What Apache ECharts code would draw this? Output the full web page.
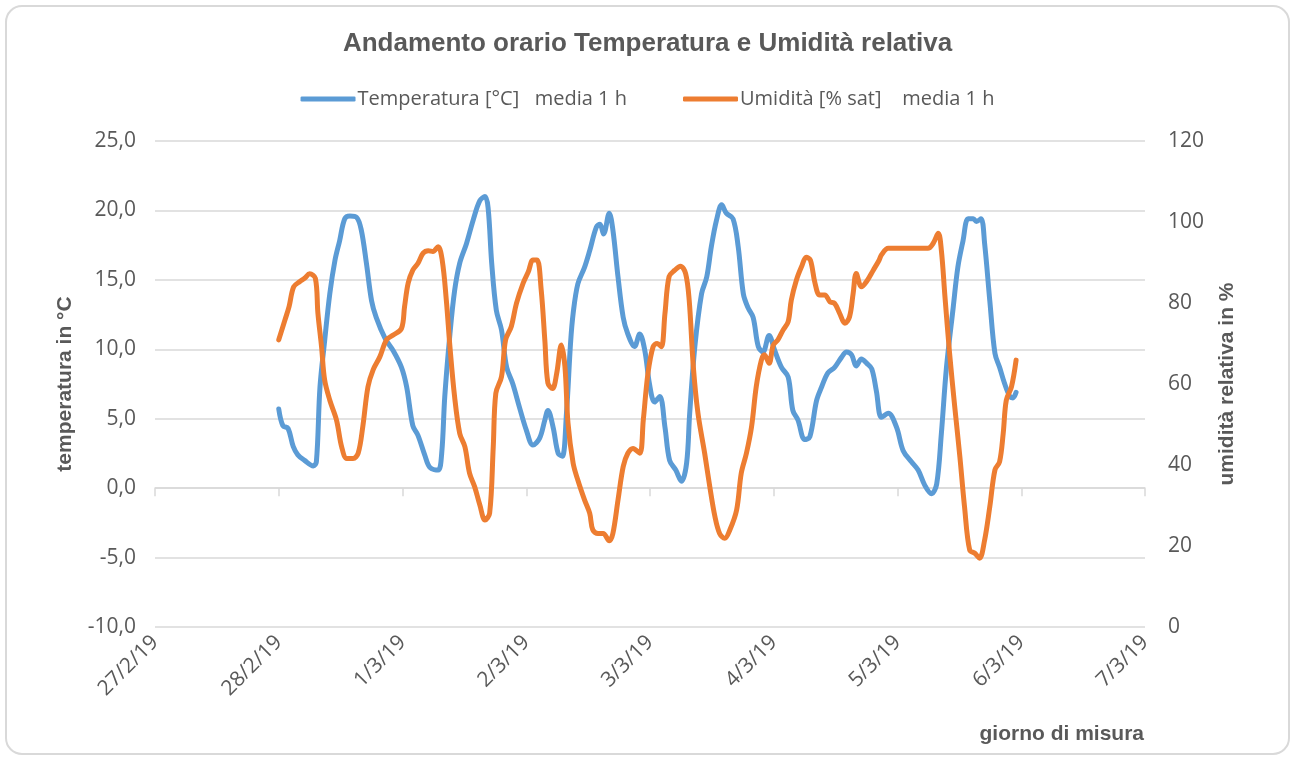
<!DOCTYPE html>
<html>
<head>
<meta charset="utf-8">
<script src="https://cdn.jsdelivr.net/npm/echarts@6/dist/echarts.min.js"></script>
<style>
	html, body {margin: 0; padding: 0; background: #fff;}
	#chart {width: 1295px; height: 760px;}
</style>
</head>
<body>
<div id="chart"></div>
<script>
// hours since 28/2/19 00:00
const dayLabels = ['27/2/19', '28/2/19', '1/3/19', '2/3/19', '3/3/19', '4/3/19', '5/3/19', '6/3/19', '7/3/19'];

const tempHours = [0, 0.8, 1.8, 2.8, 3.7, 5.0, 6.7, 7.3, 8.0, 8.9, 9.9, 10.9, 11.8, 12.8, 13.8, 15.1, 16.0, 17.0, 18.0, 18.9,
	20.6, 22.2, 23.8, 24.8, 26.0, 27.0, 28.3, 29.3, 30.9, 31.6, 32.2, 33.2, 34.1, 35.1, 36.4, 37.7, 39.0, 40.0, 40.6, 41.3,
	42.2, 43.2, 44.2, 45.4, 46.7, 48.0, 49.3, 50.6, 51.6, 52.2, 53.2, 54.2, 55.0, 55.8, 56.6, 57.1, 58.0, 59.3, 60.3, 61.6,
	62.3, 63.0, 64.1, 64.8, 65.8, 66.8, 67.7, 69.0, 70.0, 71.0, 71.9, 72.9, 73.9, 74.9, 75.8, 77.0, 78.1, 79.1, 79.7, 80.7,
	82.0, 83.0, 83.9, 84.9, 85.9, 86.8, 88.1, 89.1, 90.1, 91.0, 92.0, 93.0, 93.9, 95.1, 96.2, 97.5, 98.8, 99.7, 100.7, 102.0,
	103.0, 104.3, 105.3, 106.5, 107.8, 109.1, 110.1, 111.1, 112.0, 113.0, 114.0, 115.0, 115.9, 116.9, 118.2, 119.8, 121.1, 122.7, 124.0, 125.3,
	126.6, 127.6, 128.5, 129.5, 130.8, 131.7, 132.7, 133.7, 134.7, 135.3, 136.2, 136.9, 137.9, 138.9, 139.8, 140.8, 141.8, 142.4, 143.0];
const tempValues = [5.7, 4.5, 4.3, 3.0, 2.4, 2.0, 1.6, 1.9, 7.3, 10.6, 14.0, 16.4, 17.8, 19.4, 19.6, 19.5, 18.6, 16.2, 13.5, 12.3,
	10.8, 9.9, 8.7, 7.3, 4.5, 3.8, 2.4, 1.5, 1.3, 2.5, 6.6, 11.1, 14.2, 16.2, 17.6, 19.3, 20.7, 21.0, 20.2, 16.2,
	12.8, 11.4, 8.7, 7.5, 5.8, 4.2, 3.1, 3.6, 4.9, 5.6, 4.4, 2.5, 2.3, 5.4, 10.5, 12.6, 14.7, 15.9, 17.1, 18.8,
	19.0, 18.3, 19.8, 18.6, 15.2, 12.3, 11.1, 10.2, 11.1, 9.9, 7.5, 6.2, 6.6, 4.4, 2.0, 1.3, 0.5, 1.8, 5.4, 10.2,
	14.0, 15.2, 17.4, 19.3, 20.4, 19.8, 19.4, 17.4, 14.0, 13.0, 12.3, 10.2, 9.8, 11.0, 9.9, 8.7, 8.0, 5.6, 4.9, 3.5,
	3.7, 6.3, 7.3, 8.3, 8.7, 9.4, 9.8, 9.6, 8.8, 9.3, 9.0, 8.6, 7.0, 5.1, 5.4, 4.4, 2.7, 1.9, 1.3, 0.2,
	-0.4, 0.3, 3.9, 8.7, 13.0, 15.9, 17.8, 19.4, 19.4, 19.2, 19.4, 17.6, 13.5, 9.7, 8.7, 7.5, 6.6, 6.5, 6.9];

const humHours = [0, 1.2, 2.0, 2.9, 4.1, 5.0, 6.0, 7.1, 7.6, 8.3, 8.9, 9.9, 11.2, 12.2, 13.2, 14.4, 15.4, 16.3, 17.3, 18.3,
	19.6, 20.9, 22.2, 23.8, 24.4, 25.1, 26.0, 27.0, 28.0, 29.0, 29.9, 30.9, 31.7, 32.5, 33.2, 34.1, 35.1, 36.1, 37.0, 38.0,
	39.0, 40.0, 40.9, 41.6, 42.1, 43.2, 44.0, 45.1, 46.1, 47.4, 48.4, 49.3, 50.1, 50.9, 51.6, 52.2, 53.1, 53.9, 54.8, 55.5,
	56.1, 57.1, 58.0, 59.3, 60.3, 60.9, 61.9, 62.9, 64.1, 64.8, 65.8, 66.8, 67.7, 68.7, 70.0, 70.7, 71.6, 72.6, 73.4, 74.2,
	74.9, 75.7, 76.8, 77.9, 78.9, 79.6, 80.4, 81.3, 82.6, 83.6, 84.6, 85.5, 86.5, 87.5, 88.8, 89.7, 90.7, 91.7, 92.6, 93.6,
	94.2, 95.1, 95.9, 96.8, 97.8, 98.8, 99.4, 100.4, 101.4, 102.3, 103.1, 104.0, 104.9, 105.9, 106.9, 107.8, 108.8, 109.8, 110.7, 111.4,
	112.0, 113.0, 114.0, 115.3, 116.4, 116.9, 118.2, 119.8, 122.0, 124.0, 125.9, 126.9, 127.9, 128.5, 129.2, 130.1, 131.1, 132.1, 133.0, 134.0,
	135.0, 135.9, 136.9, 137.9, 138.9, 139.8, 140.5, 141.1, 142.1, 143.0];
const humValues = [70.9, 75.8, 79.1, 84.0, 85.3, 86.1, 87.2, 86.1, 77.4, 69.2, 61.0, 56.0, 51.1, 44.5, 41.6, 41.6, 42.9, 49.5, 59.3, 63.5,
	66.7, 70.9, 72.1, 73.7, 79.1, 84.9, 88.1, 89.8, 92.3, 92.9, 92.7, 93.9, 90.6, 80.7, 69.2, 56.9, 47.8, 44.5, 38.0, 34.6,
	30.1, 26.4, 28.1, 44.5, 57.7, 61.8, 70.9, 74.2, 79.9, 84.9, 87.7, 90.6, 90.6, 83.2, 70.9, 60.2, 58.9, 62.6, 69.6, 64.3,
	50.3, 40.4, 36.3, 31.4, 28.1, 24.0, 23.1, 23.1, 21.3, 23.1, 31.4, 39.6, 42.9, 44.1, 42.9, 51.1, 62.6, 69.2, 70.0, 69.2,
	77.4, 86.5, 88.1, 89.1, 87.3, 80.7, 64.3, 52.8, 42.9, 34.6, 27.2, 23.1, 21.9, 24.0, 28.9, 38.0, 42.9, 49.5, 59.3, 65.9,
	67.2, 65.1, 69.6, 70.9, 73.3, 75.4, 80.7, 85.7, 89.0, 91.3, 90.6, 84.9, 82.0, 82.0, 80.3, 79.9, 77.4, 75.0, 76.6, 82.4,
	87.3, 84.0, 85.3, 88.1, 90.5, 91.9, 93.5, 93.5, 93.5, 93.5, 93.5, 94.7, 97.2, 93.1, 81.6, 67.6, 54.4, 42.0, 29.7, 19.0,
	18.2, 17.0, 21.5, 29.7, 38.8, 40.8, 47.8, 56.0, 59.3, 65.9];

const tempName = 'Temperatura [°C]   media 1 h';
const humName = 'Umidità [% sat]    media 1 h';

const textColor = '#595959';
const gridColor = '#d9d9d9';
const font = 'Open Sans';
const bold = {color: textColor, fontSize: 21, fontWeight: 'bold', fontFamily: 'Liberation Sans'};

const chart = echarts.init(document.getElementById('chart'));

chart.setOption({
	backgroundColor: '#fff',
	animation: false,
	graphic: [{
		type: 'rect',
		shape: {x: 6, y: 6, width: 1283, height: 748, r: 16},
		style: {fill: 'none', stroke: gridColor, lineWidth: 2},
		silent: true
	}],
	title: [{
		text: 'Andamento orario Temperatura e Umidità relativa',
		left: 'center',
		top: 26,
		textStyle: {...bold, fontSize: 26}
	}, {
		text: 'giorno di misura',
		right: 146,
		top: 719,
		textStyle: bold
	}],
	legend: {
		top: 84,
		left: 'center',
		itemWidth: 55,
		itemHeight: 5,
		itemGap: 56,
		icon: 'roundRect',
		textStyle: {color: textColor, fontSize: 20, fontFamily: font, padding: [0, 0, 0, -3]},
		data: [tempName, humName]
	},
	grid: {left: 155, right: 150, top: 141, bottom: 133},
	xAxis: {
		type: 'value',
		min: -24,
		max: 168,
		interval: 24,
		splitLine: {show: false},
		axisLine: {lineStyle: {color: gridColor, width: 1.5}},
		axisTick: {show: true, length: 8, lineStyle: {color: gridColor, width: 1.5}},
		axisLabel: {
			rotate: 45,
			margin: 12,
			color: textColor,
			fontSize: 21,
			fontFamily: font,
			formatter: v => dayLabels[Math.round((v + 24) / 24)]
		}
	},
	yAxis: [{
		type: 'value',
		min: -10,
		max: 25,
		interval: 5,
		name: 'temperatura in °C',
		nameLocation: 'middle',
		nameRotate: 90,
		nameGap: 79,
		nameTextStyle: bold,
		axisLine: {show: false},
		axisTick: {show: false},
		splitLine: {lineStyle: {color: gridColor, width: 1.5}},
		axisLabel: {
			margin: 19,
			color: textColor,
			fontSize: 21,
			fontFamily: font,
			formatter: v => v.toFixed(1).replace('.', ',')
		}
	}, {
		type: 'value',
		min: 0,
		max: 120,
		interval: 20,
		name: 'umidità relativa in %',
		nameLocation: 'middle',
		nameRotate: 90,
		nameGap: 72,
		nameTextStyle: bold,
		axisLine: {show: false},
		axisTick: {show: false},
		splitLine: {show: false},
		axisLabel: {margin: 23, color: textColor, fontSize: 21, fontFamily: font}
	}],
	series: [{
		name: tempName,
		type: 'line',
		yAxisIndex: 0,
		smooth: 0.35,
		showSymbol: false,
		color: '#5b9bd5',
		lineStyle: {width: 5, color: '#5b9bd5', cap: 'round', join: 'round'},
		data: tempHours.map((h, i) => [h, tempValues[i]])
	}, {
		name: humName,
		type: 'line',
		yAxisIndex: 1,
		smooth: 0.35,
		showSymbol: false,
		color: '#ed7d31',
		lineStyle: {width: 5, color: '#ed7d31', cap: 'round', join: 'round'},
		data: humHours.map((h, i) => [h, humValues[i]])
	}]
});
</script>
</body>
</html>
